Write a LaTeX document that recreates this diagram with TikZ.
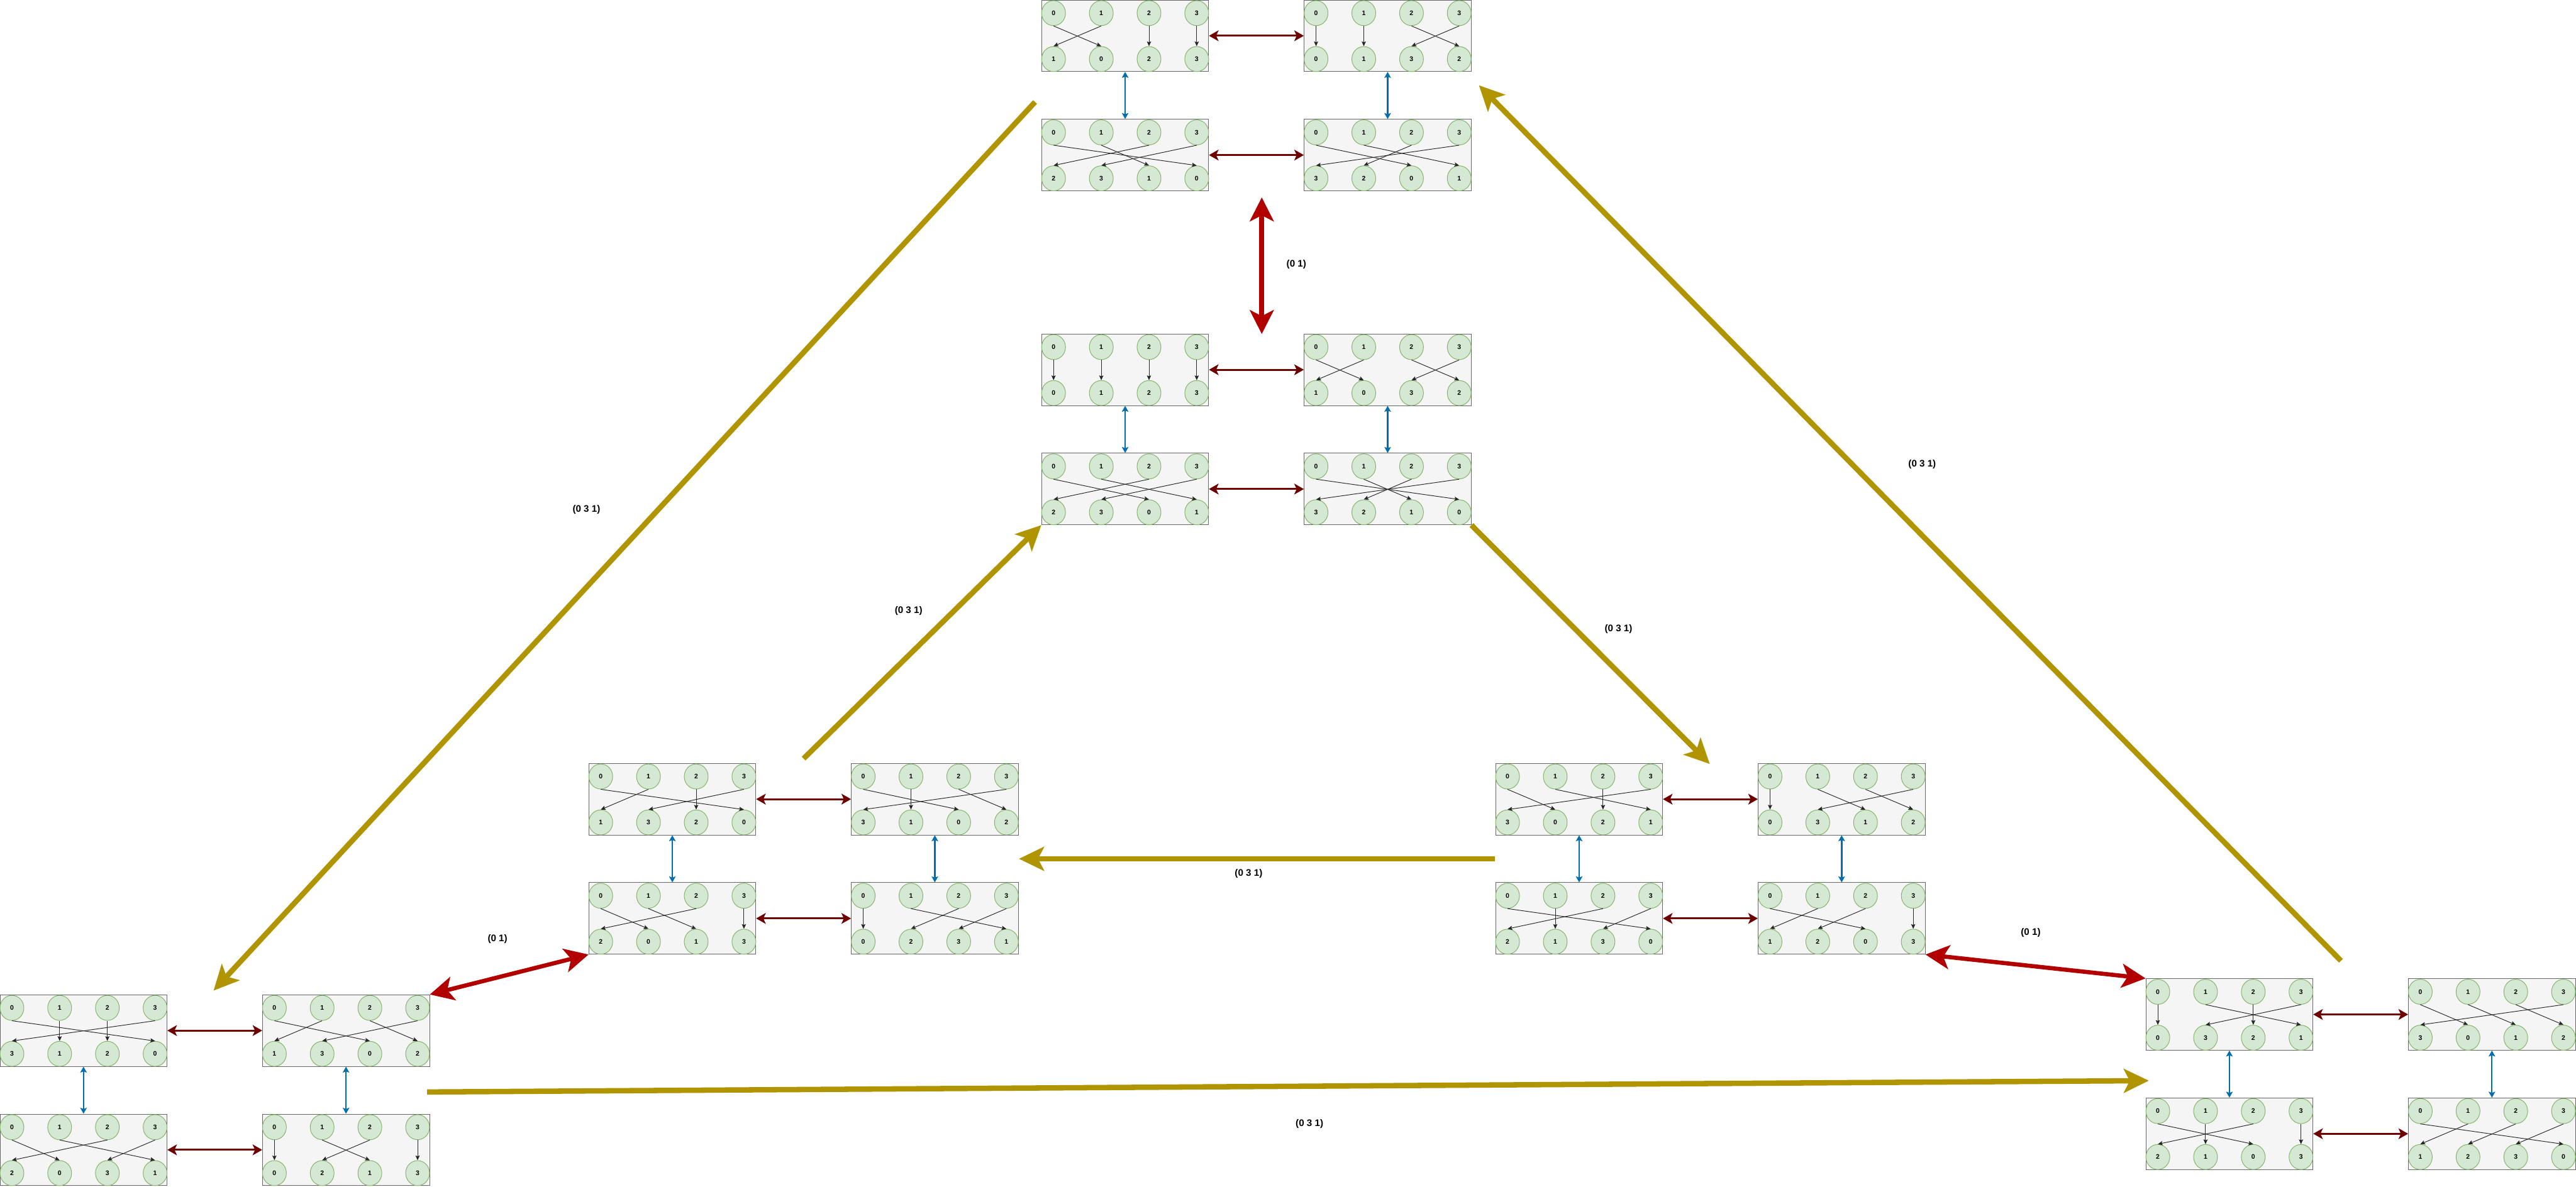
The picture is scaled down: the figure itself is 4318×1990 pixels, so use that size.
\documentclass[tikz,border=0pt]{standalone}
\usepackage{fontspec}
\setsansfont{Liberation Sans}
\usetikzlibrary{arrows.meta, positioning, shapes.geometric, calc}

\definecolor{boxfill}{HTML}{F5F5F5}
\definecolor{boxline}{HTML}{666666}
\definecolor{nodefill}{HTML}{D5E8D4}
\definecolor{nodeline}{HTML}{82B366}
\definecolor{swapred}{HTML}{6F0000}
\definecolor{swapblue}{HTML}{006EAF}
\definecolor{bigred}{HTML}{B20000}
\definecolor{cyclegold}{HTML}{B09500}

% one permutation box: name, left x, top y, bottom row
\newcommand{\permbox}[4]{%
  \node[pbox] (#1) at (#2+140,#3+60) {};
  \foreach \i in {0,...,3}
    \node[pnode] (#1-t\i) at (#2+20+80*\i,#3+22) {\i};
  \foreach \v [count=\j from 0] in {#4}
    \node[pnode] (#1-b\v) at (#2+20+80*\j,#3+99) {\v};
  \foreach \i in {0,...,3}
    \draw[pedge] (#1-t\i.south) -- (#1-b\i.north);
}

% group of four boxes: name, left x, top y, four bottom rows
\newcommand{\permquad}[7]{%
  \permbox{#1-1}{#2}{#3}{#4}
  \permbox{#1-2}{#2+440}{#3}{#5}
  \permbox{#1-3}{#2}{#3+200}{#6}
  \permbox{#1-4}{#2+440}{#3+200}{#7}
  \draw[hswap] (#1-1.east) -- (#1-2.west);
  \draw[hswap] (#1-3.east) -- (#1-4.west);
  \draw[vswap] (#1-1.south) -- (#1-3.north);
  \draw[vswap] (#1-2.south) -- (#1-4.north);
}

\begin{document}
\begin{tikzpicture}[x=1pt, y=-1pt,
    pbox/.style={draw=boxline, fill=boxfill, line width=1pt,
      minimum width=280pt, minimum height=120pt, inner sep=0pt},
    pnode/.style={ellipse, draw=nodeline, fill=nodefill, line width=1pt,
      minimum width=40pt, minimum height=42pt, inner sep=0pt,
      font=\sffamily\bfseries\fontsize{11}{12}\selectfont},
    pedge/.style={-{Stealth[length=8pt, width=7pt, inset=1.5pt]},
      line width=1pt, black!85},
    hswap/.style={{Stealth[length=16pt, width=18pt, inset=4pt]}-{Stealth[length=16pt, width=18pt, inset=4pt]},
      line width=3pt, swapred},
    vswap/.style={{Stealth[length=10pt, width=11pt, inset=2pt]}-{Stealth[length=10pt, width=11pt, inset=2pt]},
      line width=2.5pt, swapblue},
    bigswap/.style={{Stealth[length=40pt, width=40pt, inset=10pt]}-{Stealth[length=40pt, width=40pt, inset=10pt]},
      line width=8pt, bigred},
    cycle/.style={-{Stealth[length=42pt, width=40pt, inset=10pt]},
      line width=9pt, cyclegold},
    lab/.style={font=\sffamily\bfseries\fontsize{16}{18}\selectfont}]

  \path[fill=white, use as bounding box] (0,0) rectangle (4318,1990);

  % the six groups
  \permquad{A}{1746}{0}{1,0,2,3}{0,1,3,2}{2,3,1,0}{3,2,0,1}
  \permquad{M}{1746}{560}{0,1,2,3}{1,0,3,2}{2,3,0,1}{3,2,1,0}
  \permquad{L}{987}{1280}{1,3,2,0}{3,1,0,2}{2,0,1,3}{0,2,3,1}
  \permquad{R}{2507}{1280}{3,0,2,1}{0,3,1,2}{2,1,3,0}{1,2,0,3}
  \permquad{P}{0}{1668}{3,1,2,0}{1,3,0,2}{2,0,3,1}{0,2,1,3}
  \permquad{Q}{3597}{1641}{0,3,2,1}{3,0,1,2}{2,1,0,3}{1,2,3,0}

  % free ends of the long arrows
  \coordinate (g1s) at (1735,171);
  \coordinate (g1e) at (358,1661);
  \coordinate (g2s) at (3924,1611);
  \coordinate (g2e) at (2479,143);
  \coordinate (g3s) at (1347,1272);
  \coordinate (g4e) at (2866,1281);
  \coordinate (g5s) at (2506,1440);
  \coordinate (g5e) at (1708,1440);
  \coordinate (g6s) at (716,1831);
  \coordinate (g6e) at (3602,1812);
  \coordinate (r0s) at (2115,331);
  \coordinate (r0e) at (2115,560);

  % transposition (0 1)
  \draw[bigswap] (r0s) -- (r0e);
  \draw[bigswap, line width=7pt] (P-2.north east) -- (L-3.south west);
  \draw[bigswap, line width=7pt] (R-4.south east) -- (Q-1.north west);
  \node[lab] (t0) at (2173,443) {(0 1)};
  \node[lab] (t1) at (834,1575) {(0 1)};
  \node[lab] (t2) at (3404,1564) {(0 1)};

  % cycle (0 3 1)
  \draw[cycle] (g1s) -- (g1e);
  \draw[cycle] (g2s) -- (g2e);
  \draw[cycle] (g3s) -- (M-3.south west);
  \draw[cycle] (M-4.south east) -- (g4e);
  \draw[cycle] (g5s) -- (g5e);
  \draw[cycle] (g6s) -- (g6e);
  \node[lab] (c1) at (983,854) {(0 3 1)};
  \node[lab] (c2) at (3222,779) {(0 3 1)};
  \node[lab] (c3) at (1523,1024) {(0 3 1)};
  \node[lab] (c4) at (2713,1055) {(0 3 1)};
  \node[lab] (c5) at (2093,1465) {(0 3 1)};
  \node[lab] (c6) at (2195,1884) {(0 3 1)};
\end{tikzpicture}
\end{document}
